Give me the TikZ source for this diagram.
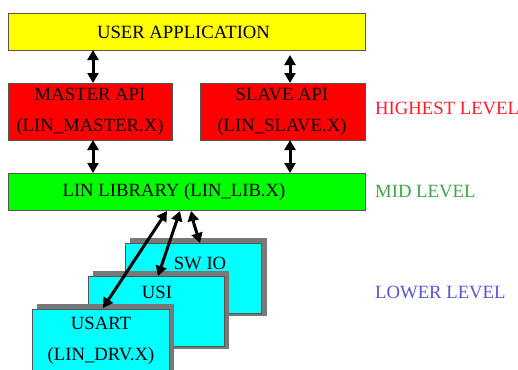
\documentclass[tikz,border=0pt]{standalone}
\usepackage{fontspec}
\setmainfont{Liberation Serif}
\usetikzlibrary{arrows.meta}
\definecolor{boxline}{RGB}{85,85,85}
\definecolor{shadowgray}{RGB}{120,120,120}
\definecolor{hired}{RGB}{255,30,40}
\definecolor{midgreen}{RGB}{60,165,70}
\definecolor{lowblue}{RGB}{85,85,215}
\definecolor{ayellow}{RGB}{255,255,0}
\definecolor{ared}{RGB}{255,0,0}
\definecolor{agreen}{RGB}{0,255,0}
\definecolor{acyan}{RGB}{0,255,255}
\tikzset{
  lay/.style={draw=boxline, line width=0.8pt, inner sep=0pt, outer sep=0pt, rectangle},
  shad/.style={fill=shadowgray, draw=none},
  txt/.style={inner sep=0pt, font=\fontsize{18.7}{31}\selectfont, align=center, text=black},
  lvl/.style={inner sep=0pt, anchor=west, font=\fontsize{18.7}{20}\selectfont},
  dbl/.style={line width=3pt, {Triangle[length=10pt,width=11pt]}-{Triangle[length=10pt,width=11pt]}},
}
\begin{document}
\begin{tikzpicture}[x=1pt,y=-1pt]
\useasboundingbox (0,0) rectangle (518,369);
\clip (0,0) rectangle (518,369);
% top boxes
\draw[lay, fill=ayellow] (8,13) rectangle (365,50);
\coordinate (uaS1) at (93,50);
\coordinate (uaS2) at (290,55);
\node[txt] (ua) at (183.5,32) {USER APPLICATION};
\draw[lay, fill=ared] (8,83) rectangle (172,140);
\node[txt] (ma) at (90,111.5) {MASTER API\\(LIN\_MASTER.X)};
\draw[lay, fill=ared] (200,83) rectangle (365,140);
\node[txt] (sa) at (282,111.5) {SLAVE API\\(LIN\_SLAVE.X)};
\draw[lay, fill=agreen] (8,173) rectangle (365,210);
\node[txt] (lib) at (174,192) {LIN LIBRARY (LIN\_LIB.X)};
% level labels
\node[lvl, text=hired] (hl) at (375,108) {HIGHEST LEVEL};
\node[lvl, text=midgreen] (ml) at (375,192) {MID LEVEL};
\node[lvl, text=lowblue] (ll) at (375,292) {LOWER LEVEL};
% lower stacked boxes
\fill[shad] (130,238) rectangle (267,316);
\draw[lay, fill=acyan] (125,243) rectangle (261,313);
\node[txt] (sw) at (200,263) {SW IO};
\fill[shad] (93,271) rectangle (229,349);
\draw[lay, fill=acyan] (88,276) rectangle (224,346);
\node[txt] (usi) at (157,292) {USI};
\fill[shad] (37,304) rectangle (174,390);
\draw[lay, fill=acyan] (32,309) rectangle (169,390);
\node[txt] (usart) at (101,341) {USART\\(LIN\_DRV.X)};
% connector endpoints
\coordinate (m1) at (93,83);
\coordinate (m2) at (93,140);
\coordinate (l1) at (93,173);
\coordinate (s1) at (290,83);
\coordinate (s2) at (290,140);
\coordinate (l2) at (290,173);
\coordinate (lb1) at (167,211);
\coordinate (lb2) at (180,211);
\coordinate (lb3) at (191,211);
\coordinate (kink) at (194,224);
\coordinate (uT) at (103,308);
\coordinate (iT) at (158,276);
\coordinate (wT) at (200,243);
% arrows
\draw[dbl] (uaS1) -- (m1);
\draw[dbl] (uaS2) -- (s1);
\draw[dbl] (m2) -- (l1);
\draw[dbl] (s2) -- (l2);
\draw[dbl] (lb1) -- (uT);
\draw[dbl] (lb2) -- (iT);
\draw[dbl] (lb3) -- (kink) -- (wT);
\end{tikzpicture}
\end{document}
